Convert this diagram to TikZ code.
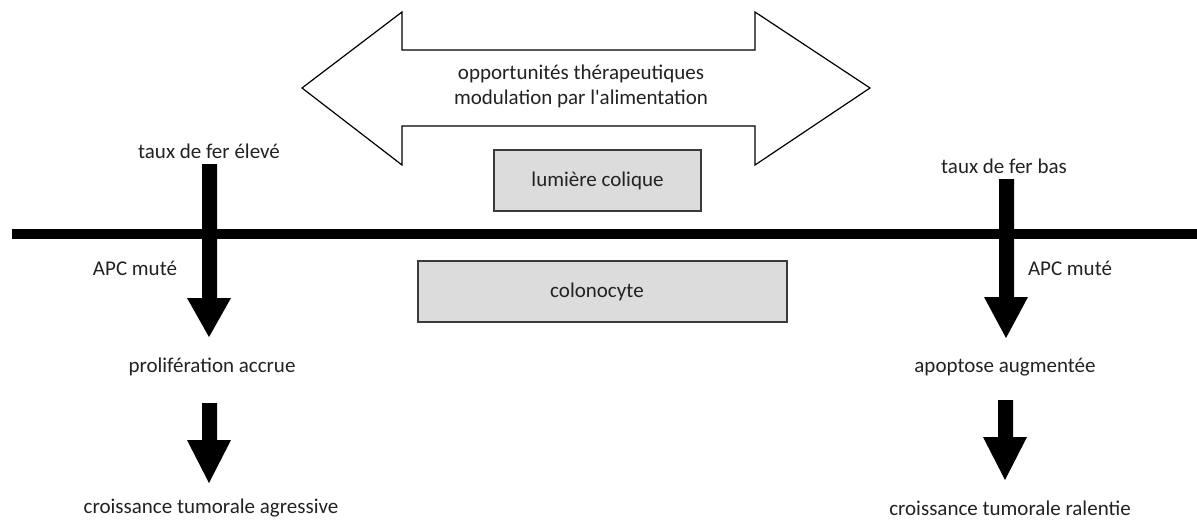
\documentclass[tikz,border=0pt]{standalone}
\usepackage{fontspec}
\setmainfont{Carlito}
\usetikzlibrary{arrows.meta}
\definecolor{txt}{HTML}{222222}
\definecolor{boxfill}{HTML}{DCDCDC}
\definecolor{boxline}{HTML}{3A3A3A}
\tikzset{
  lbl/.style={font=\fontsize{21}{25}\selectfont, text=txt, inner sep=1pt},
  graybox/.style={draw=boxline, line width=1.2pt, fill=boxfill},
  blockarr/.style={fill=black, draw=none},
}
\begin{document}
\begin{tikzpicture}[x=1pt,y=-1pt]
\useasboundingbox (0,0) rectangle (1197,522);
% double arrow
\draw[line width=1.2pt, fill=white, line join=miter]
  (302,88) -- (402,12) -- (402,50) -- (755,50) -- (755,12) -- (870,88)
  -- (755,165) -- (755,126) -- (402,126) -- (402,165) -- cycle;
\node[lbl, align=center] (opp) at (581,86) {opportunités thérapeutiques\\modulation par l\textquotesingle alimentation};
% boxes
\draw[graybox] (494,150) rectangle (701,211);
\node[lbl] (lum) at (597.5,181) {lumière colique};
\draw[graybox] (418,261) rectangle (787,322);
\node[lbl] (col) at (597,292) {colonocyte};
% labels
\node[lbl] (hi) at (209,151) {taux de fer élevé};
\node[lbl] (lo) at (1004,166) {taux de fer bas};
\node[lbl] (apcl) at (135,268) {APC muté};
\node[lbl] (apcr) at (1070,268) {APC muté};
\node[lbl] (prol) at (212,367) {prolifération accrue};
\node[lbl] (apop) at (1005,367) {apoptose augmentée};
\node[lbl] (agr) at (211,508) {croissance tumorale agressive};
\node[lbl] (ral) at (1010,508) {croissance tumorale ralentie};
% membrane
\fill[black] (12,229) rectangle (1197,239);
% block arrows left
\fill[blockarr] (202,164) -- (217,164) -- (217,298) -- (231,298) -- (209,337) -- (187,298) -- (202,298) -- cycle;
\fill[blockarr] (202,403) -- (217,403) -- (217,440) -- (231,440) -- (209,483) -- (187,440) -- (202,440) -- cycle;
% block arrows right
\fill[blockarr] (999,179) -- (1014,179) -- (1014,297) -- (1028,297) -- (1006,338) -- (984,297) -- (999,297) -- cycle;
\fill[blockarr] (998,400) -- (1013,400) -- (1013,437) -- (1027,437) -- (1005,480) -- (983,437) -- (998,437) -- cycle;
\end{tikzpicture}
\end{document}
